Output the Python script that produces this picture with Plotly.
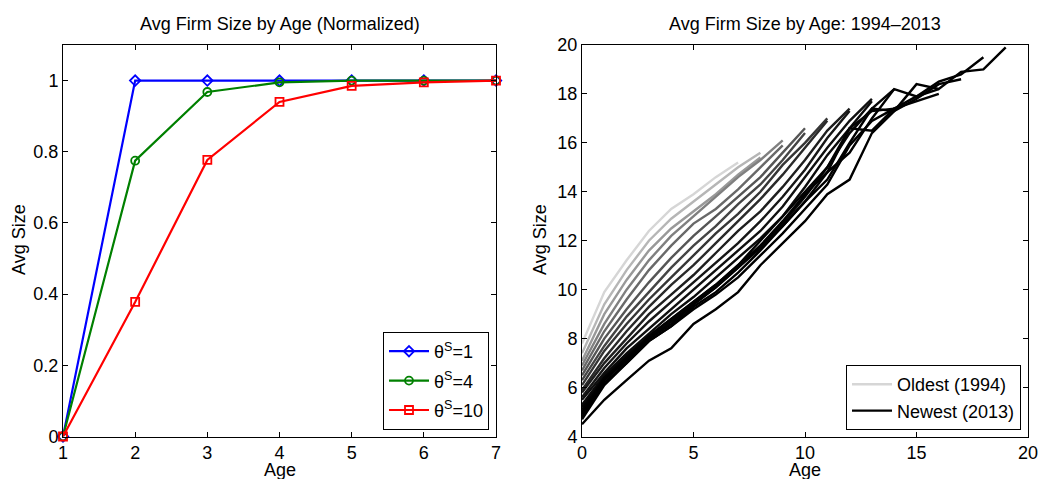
import plotly.graph_objects as go

W, H = 1038, 479

# ---------------- Left panel data ----------------
ages_norm = [1, 2, 3, 4, 5, 6, 7]
theta_1 = [0.0, 1.0, 1.0, 1.0, 1.0, 1.0, 1.0]
theta_4 = [0.0, 0.775, 0.968, 0.995, 1.0, 1.0, 1.0]
theta_10 = [0.0, 0.378, 0.777, 0.94, 0.985, 0.995, 1.0]
left_names = ["θ<sup>S</sup>=1", "θ<sup>S</sup>=4", "θ<sup>S</sup>=10"]

# ---------------- Right panel data (avg size by age, one list per year) ----------------
years = list(range(1994, 2014))
s1994 = [7.8, 9.9, 11.2, 12.4, 13.3, 13.9, 14.6, 15.2]
s1995 = [7.4, 9.4, 10.8, 12.0, 12.9, 13.6, 14.3, 15.0, 15.6]
s1996 = [7.1, 9.0, 10.4, 11.6, 12.5, 13.2, 13.9, 14.7, 15.4]
s1997 = [6.9, 8.6, 10.0, 11.2, 12.2, 13.0, 13.8, 14.6, 15.3, 16.1]
s1998 = [6.7, 8.3, 9.6, 10.8, 11.8, 12.7, 13.3, 14.1, 15.0, 15.9]
s1999 = [6.5, 8.0, 9.2, 10.3, 11.3, 12.2, 13.0, 13.8, 14.6, 15.6, 16.6]
s2000 = [6.3, 7.7, 8.9, 9.9, 10.9, 11.8, 12.6, 13.5, 14.3, 15.3, 16.4]
s2001 = [6.1, 7.5, 8.6, 9.6, 10.5, 11.4, 12.3, 13.1, 14.0, 15.1, 16.0, 17.0]
s2002 = [5.9, 7.2, 8.3, 9.3, 10.2, 11.0, 11.9, 12.8, 13.7, 14.7, 15.8, 16.9]
s2003 = [5.8, 7.0, 8.0, 9.0, 9.8, 10.6, 11.5, 12.4, 13.2, 14.2, 15.3, 16.5, 17.4]
s2004 = [5.6, 6.8, 7.8, 8.7, 9.5, 10.3, 11.1, 11.9, 12.8, 13.8, 14.9, 16.2, 17.3]
s2005 = [5.5, 6.6, 7.6, 8.4, 9.2, 10.0, 10.8, 11.6, 12.4, 13.4, 14.6, 15.8, 16.9, 17.8]
s2006 = [5.3, 6.5, 7.4, 8.2, 9.0, 9.7, 10.5, 11.3, 12.1, 13.0, 14.2, 15.5, 16.6, 17.7]
s2007 = [5.2, 6.4, 7.3, 8.1, 8.8, 9.5, 10.2, 11.0, 11.8, 12.7, 13.8, 15.0, 16.4, 17.4, 18.2]
s2008 = [5.1, 6.3, 7.2, 8.0, 8.7, 9.4, 10.1, 10.9, 11.7, 12.6, 13.6, 14.8, 16.6, 17.3, 17.4]
s2009 = [5.0, 6.4, 7.2, 8.1, 8.8, 9.5, 10.2, 11.0, 12.0, 13.0, 14.0, 15.0, 16.6, 16.5, 17.4, 17.7, 18.0]
s2010 = [4.9, 6.3, 7.1, 8.0, 8.6, 9.4, 10.1, 10.9, 11.8, 12.8, 13.9, 14.8, 15.6, 17.0, 18.2, 17.9, 18.2]
s2011 = [4.8, 6.2, 7.0, 7.9, 8.5, 9.3, 9.9, 10.7, 11.6, 12.6, 13.6, 14.5, 16.0, 17.4, 17.3, 17.8, 18.4, 18.6]
s2012 = [4.7, 6.1, 7.0, 7.9, 8.5, 9.2, 9.8, 10.5, 11.4, 12.3, 13.3, 14.3, 15.9, 16.9, 17.4, 17.9, 18.5, 18.8, 19.5]
s2013 = [4.5, 5.5, 6.3, 7.1, 7.6, 8.6, 9.2, 9.9, 11.0, 11.9, 12.8, 13.9, 14.5, 16.4, 17.3, 18.4, 18.2, 18.9, 19.0, 19.9]
series_by_year = [s1994, s1995, s1996, s1997, s1998, s1999, s2000, s2001, s2002, s2003,
                  s2004, s2005, s2006, s2007, s2008, s2009, s2010, s2011, s2012, s2013]

FONT = "Liberation Sans, Arial, Helvetica, sans-serif"
FS = 18


def px(x):
    return x / W


def py(y):
    return 1 - y / H


fig = go.Figure()

# Left panel traces
left_series = [theta_1, theta_4, theta_10]
left_colors = ["#0000ff", "#008000", "#ff0000"]
left_symbols = ["diamond-open", "circle-open", "square-open"]
for i, (vals, col, sym, nm) in enumerate(zip(left_series, left_colors, left_symbols, left_names)):
    fig.add_trace(go.Scatter(
        x=ages_norm, y=vals, mode="lines+markers", name=nm,
        line=dict(color=col, width=2.2),
        marker=dict(symbol=sym, size=8, color=col, line=dict(width=1.8, color=col)),
        xaxis="x", yaxis="y", legend="legend", legendgroup=f"l{i}",
        cliponaxis=False,
    ))

# Right panel traces
n = len(series_by_year)
for k, (yr, vals) in enumerate(zip(years, series_by_year)):
    g = 0.84 * (1 - k / (n - 1)) ** 3
    c = int(round(g * 255))
    col = f"rgb({c},{c},{c})"
    show = k == 0 or k == n - 1
    nm = "Oldest (1994)" if k == 0 else ("Newest (2013)" if k == n - 1 else str(yr))
    fig.add_trace(go.Scatter(
        x=list(range(len(vals))), y=vals, mode="lines", name=nm,
        line=dict(color=col, width=2.4),
        xaxis="x2", yaxis="y2", legend="legend2", legendgroup=f"r{k}",
        showlegend=show,
    ))

axis_common = dict(showline=True, linecolor="black", linewidth=1, mirror="ticks",
                   ticks="inside", ticklen=5, tickcolor="black", tickwidth=1,
                   showgrid=False, zeroline=False, automargin=False,
                   ticklabeloverflow="allow",
                   tickfont=dict(family=FONT, size=FS, color="black"))

fig.update_layout(
    template="none",
    width=W, height=H, autosize=False,
    margin=dict(l=0, r=0, t=0, b=0, pad=0),
    paper_bgcolor="white", plot_bgcolor="white",
    font=dict(family=FONT, size=FS, color="black"),
    xaxis=dict(domain=[px(63), px(496)], range=[1, 7], tickvals=ages_norm,
               anchor="y", **axis_common),
    yaxis=dict(domain=[py(436.5), py(45)], range=[0, 1.1],
               tickvals=[0, 0.2, 0.4, 0.6, 0.8, 1.0],
               ticktext=["0", "0.2", "0.4", "0.6", "0.8", "1"],
               anchor="x", **axis_common),
    xaxis2=dict(domain=[px(582), px(1028)], range=[0, 20], tickvals=[0, 5, 10, 15, 20],
                anchor="y2", **axis_common),
    yaxis2=dict(domain=[py(436.5), py(45)], range=[4, 20],
                tickvals=[4, 6, 8, 10, 12, 14, 16, 18, 20],
                anchor="x2", **axis_common),
    legend=dict(x=px(489), y=py(430), xanchor="right", yanchor="bottom",
                bgcolor="white", bordercolor="black", borderwidth=1,
                font=dict(family=FONT, size=FS, color="black"),
                tracegroupgap=3, itemwidth=40),
    legend2=dict(x=px(1021), y=py(430), xanchor="right", yanchor="bottom",
                 bgcolor="white", bordercolor="black", borderwidth=1,
                 font=dict(family=FONT, size=FS, color="black"),
                 tracegroupgap=0, itemwidth=40),
    showlegend=True,
)

annos = [
    dict(text="Avg Firm Size by Age (Normalized)", x=px(279.5), y=py(24)),
    dict(text="Avg Firm Size by Age: 1994\u20132013", x=px(805), y=py(24)),
    dict(text="Age", x=px(279.5), y=py(470)),
    dict(text="Age", x=px(805), y=py(470)),
    dict(text="Avg Size", x=px(19), y=py(240), textangle=-90),
    dict(text="Avg Size", x=px(540), y=py(240), textangle=-90),
]
for a in annos:
    fig.add_annotation(xref="paper", yref="paper", showarrow=False,
                       xanchor="center", yanchor="middle",
                       font=dict(family=FONT, size=FS, color="black"), **a)

fig.write_html("out.html")
